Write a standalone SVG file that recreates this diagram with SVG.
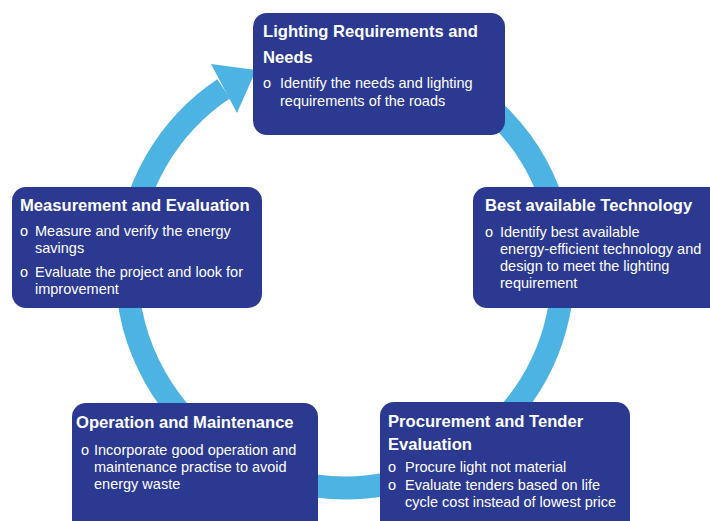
<svg xmlns="http://www.w3.org/2000/svg" width="710" height="521" viewBox="0 0 710 521">
<style>
.box{fill:#2b3990}
.t{font-family:"Liberation Sans",Arial,sans-serif;font-weight:bold;font-size:16.6px;fill:#ffffff}
.b{font-family:"Liberation Sans",Arial,sans-serif;font-size:14.5px;fill:#ffffff}
.ring{fill:none;stroke:#4db3e3;stroke-width:23}
.head{fill:#4db3e3}
</style>
<rect width="710" height="521" fill="#ffffff"/>
<g id="connectors">
<path class="ring" d="M307.1,55.3 A218,218 0 1 1 223.7,88.8"/>
<polygon class="head" points="211,64 256,70 237,113"/>
</g>
<g id="node-lighting">
<rect class="box" x="253" y="13" width="252" height="122" rx="14"/>
<text class="t" x="263" y="37">Lighting Requirements and</text>
<text class="t" x="263" y="63">Needs</text>
<text class="b" x="263" y="88">o</text>
<text class="b" x="280" y="88">Identify the needs and lighting</text>
<text class="b" x="280" y="106">requirements of the roads</text>
</g>
<g id="node-technology">
<rect class="box" x="473" y="187" width="260" height="121" rx="14"/>
<text class="t" x="485" y="211">Best available Technology</text>
<text class="b" x="485" y="237">o</text>
<text class="b" x="500" y="237">Identify best available</text>
<text class="b" x="500" y="254">energy-efficient technology and</text>
<text class="b" x="500" y="271">design to meet the lighting</text>
<text class="b" x="500" y="288">requirement</text>
</g>
<g id="node-measurement">
<rect class="box" x="12" y="187" width="250" height="121" rx="14"/>
<text class="t" x="20" y="211">Measurement and Evaluation</text>
<text class="b" x="20" y="236">o</text>
<text class="b" x="35" y="236">Measure and verify the energy</text>
<text class="b" x="35" y="253">savings</text>
<text class="b" x="20" y="277">o</text>
<text class="b" x="35" y="277">Evaluate the project and look for</text>
<text class="b" x="35" y="294">improvement</text>
</g>
<g id="node-operation">
<rect class="box" x="72" y="403" width="246" height="140" rx="14"/>
<text class="t" x="76" y="428">Operation and Maintenance</text>
<text class="b" x="81" y="455">o</text>
<text class="b" x="94" y="455">Incorporate good operation and</text>
<text class="b" x="94" y="472">maintenance practise to avoid</text>
<text class="b" x="94" y="489">energy waste</text>
</g>
<g id="node-procurement">
<rect class="box" x="380" y="402" width="250" height="140" rx="14"/>
<text class="t" x="388" y="427">Procurement and Tender</text>
<text class="t" x="388" y="450">Evaluation</text>
<text class="b" x="388" y="472">o</text>
<text class="b" x="405" y="472">Procure light not material</text>
<text class="b" x="388" y="490">o</text>
<text class="b" x="405" y="490">Evaluate tenders based on life</text>
<text class="b" x="405" y="507">cycle cost instead of lowest price</text>
</g>
</svg>
